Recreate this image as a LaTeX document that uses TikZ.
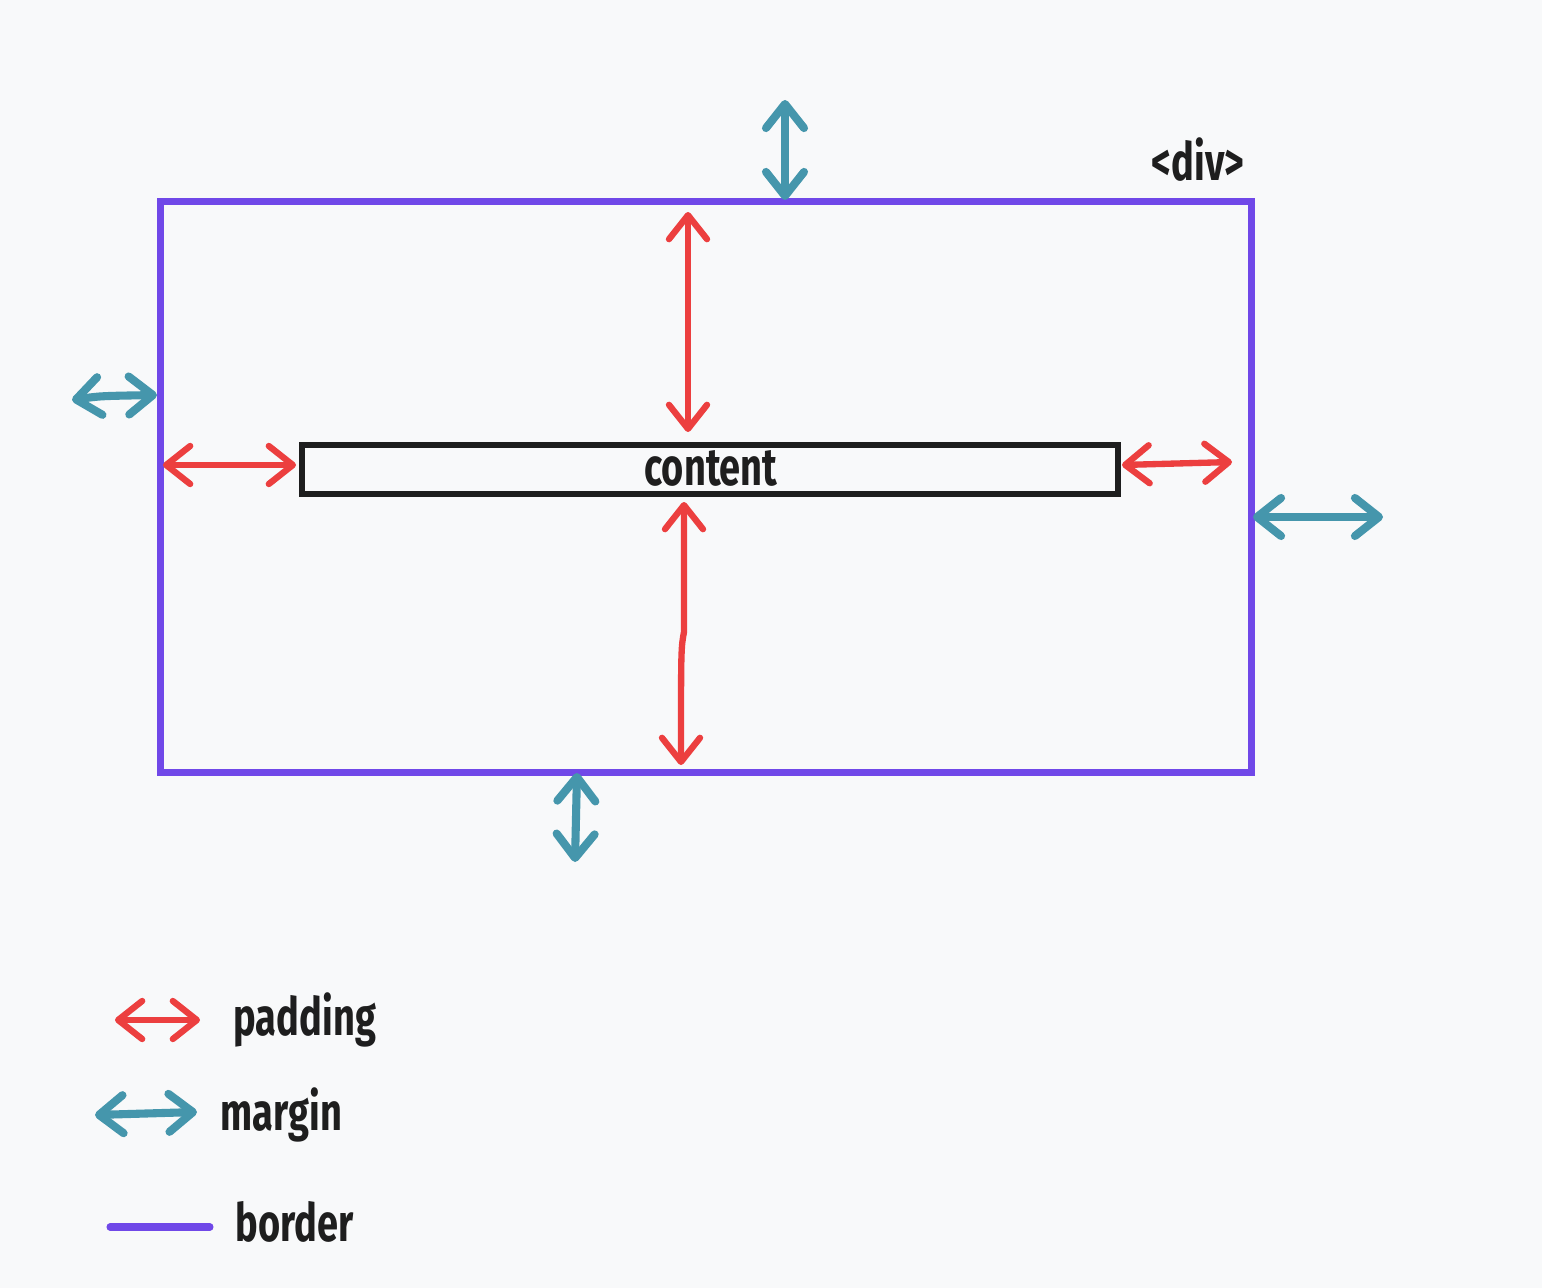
\documentclass[tikz,border=0pt]{standalone}
\usepackage{fontspec}
\usetikzlibrary{arrows.meta}
\newfontfamily\handfont[FakeStretch=0.72]{Fira Sans}
\definecolor{bgcol}{HTML}{F8F9FA}
\definecolor{padcol}{HTML}{EC3F3F}
\definecolor{margcol}{HTML}{4596AC}
\definecolor{bordcol}{HTML}{7048E8}
\definecolor{inkcol}{HTML}{1E1E1E}
\begin{document}
\begin{tikzpicture}[
    x=0.01cm, y=-0.01cm,
    >={Straight Barb[length=2.4mm,width=3.8mm,round]},
    label/.style={font=\handfont\bfseries\fontsize{15}{17}\selectfont,text=inkcol,inner sep=0pt},
    padding/.style={<->,draw=padcol,line width=1.8pt,line cap=round,line join=round},
    margin/.style={<->,draw=margcol,line width=2.3pt,line cap=round,line join=round},
    borderline/.style={draw=bordcol,line width=2pt,line cap=round}
]
\fill[bgcol] (0,0) rectangle (1542,1288);

\node[draw=bordcol,line width=2pt,minimum width=10.9cm,minimum height=5.7cm,inner sep=0pt] (divbox) at (706,487) {};
\node[draw=inkcol,line width=1.7pt,minimum width=8.16cm,minimum height=0.49cm,inner sep=0pt] (content) at (710,469.5) {};
\node[label] (contentlabel) at (711,468) {content};
\node[label] (divlabel) at (1198,160) {<div>};

% padding
\coordinate (padtop) at (688,212);
\coordinate (padtopend) at (688,432);
\coordinate (padbot) at (684,502);
\coordinate (padbotend) at (681,765);
\coordinate (padleft) at (163,465);
\coordinate (padleftend) at (296,465);
\coordinate (padright) at (1122,465);
\coordinate (padrightend) at (1232,462);
\draw[padding] (padtop)--(padtopend);
\draw[padding] (padbot)--(684,632) .. controls (681,648) .. (padbotend);
\draw[padding] (padleft)--(padleftend);
\draw[padding] (padright)--(padrightend);

% margin
\coordinate (margtop) at (785,100);
\coordinate (margtopend) at (785,200);
\coordinate (margbot) at (577,773);
\coordinate (margbotend) at (575,862);
\coordinate (margleft) at (72,400);
\coordinate (margleftend) at (157,395);
\coordinate (margright) at (1253,517);
\coordinate (margrightend) at (1383,517);
\draw[margin] (margtop)--(margtopend);
\draw[margin] (margbot)--(margbotend);
\draw[margin] (margleft) .. controls (100,396) .. (margleftend);
\draw[margin] (margright)--(margrightend);

% legend
\coordinate (keypad) at (115,1020);
\coordinate (keypadend) at (200,1020);
\coordinate (keymarg) at (95,1115);
\coordinate (keymargend) at (197,1112);
\coordinate (keybord) at (110,1227);
\coordinate (keybordend) at (210,1227);
\draw[padding] (keypad)--(keypadend);
\draw[margin] (keymarg)--(keymargend);
\draw[borderline] (keybord)--(keybordend);
\node[label,anchor=west] (padlabel) at (233,1020) {padding};
\node[label,anchor=west] (marglabel) at (220,1115) {margin};
\node[label,anchor=west] (bordlabel) at (235,1222) {border};
\end{tikzpicture}
\end{document}
